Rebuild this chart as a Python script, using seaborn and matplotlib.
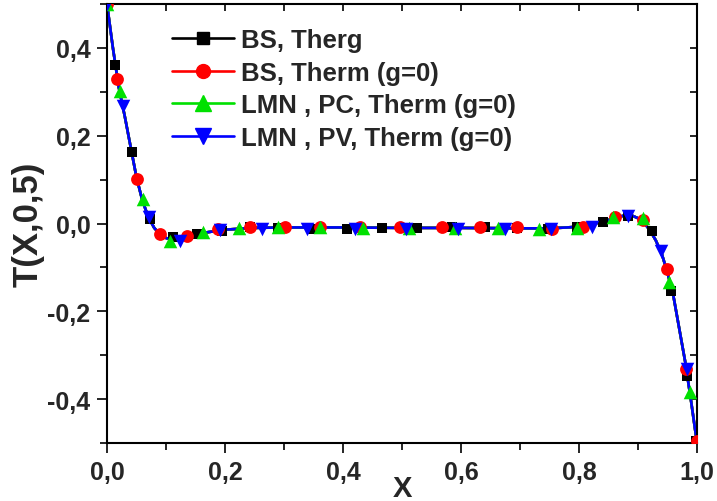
import matplotlib
matplotlib.use('Agg')
import matplotlib.pyplot as plt
import seaborn as sns
import pandas as pd
from matplotlib.lines import Line2D
from matplotlib.ticker import MultipleLocator, FuncFormatter

# ---------------- data ----------------
curve_x = [0.0, 0.01, 0.02, 0.03, 0.04, 0.05, 0.06, 0.07, 0.08, 0.09, 0.10, 0.11,
           0.12, 0.13, 0.14, 0.15, 0.17, 0.20, 0.25, 0.30, 0.40, 0.50, 0.60, 0.70,
           0.75, 0.78, 0.80, 0.82, 0.84, 0.86, 0.87, 0.88, 0.89, 0.90, 0.91, 0.92,
           0.93, 0.94, 0.95, 0.96, 0.97, 0.98, 0.99, 1.0]
curve_y = [0.5, 0.40, 0.31, 0.245, 0.175, 0.105, 0.052, 0.015, -0.010, -0.025, -0.033, -0.037,
           -0.038, -0.036, -0.032, -0.027, -0.020, -0.014, -0.010, -0.009, -0.009, -0.010, -0.010, -0.011,
           -0.011, -0.009, -0.007, -0.002, 0.004, 0.012, 0.016, 0.019, 0.018, 0.012, 0.002, -0.015,
           -0.038, -0.068, -0.112, -0.165, -0.24, -0.315, -0.405, -0.5]

bs_therg_x = [0.0, 0.014, 0.042, 0.073, 0.112, 0.152, 0.195, 0.243, 0.29, 0.349, 0.407, 0.466,
              0.525, 0.585, 0.641, 0.695, 0.747, 0.797, 0.841, 0.883, 0.924, 0.956, 0.983, 0.998]
bs_therg_y = [0.5, 0.361, 0.163, 0.010, -0.031, -0.024, -0.017, -0.007, -0.010, -0.012, -0.012, -0.010,
              -0.010, -0.007, -0.007, -0.010, -0.012, -0.008, 0.004, 0.018, -0.016, -0.154, -0.347, -0.495]

bs_therm_x = [0.0, 0.017, 0.051, 0.090, 0.136, 0.188, 0.242, 0.302, 0.361, 0.429, 0.497, 0.568,
              0.632, 0.695, 0.754, 0.807, 0.861, 0.908, 0.949, 0.981, 1.0]
bs_therm_y = [0.5, 0.329, 0.101, -0.024, -0.028, -0.012, -0.007, -0.007, -0.009, -0.007, -0.009, -0.009,
              -0.009, -0.009, -0.012, -0.007, 0.015, 0.008, -0.104, -0.331, -0.495]

lmn_pc_x = [0.0, 0.022, 0.061, 0.107, 0.163, 0.224, 0.290, 0.361, 0.434, 0.512, 0.590, 0.663,
            0.732, 0.797, 0.858, 0.908, 0.953, 0.988]
lmn_pc_y = [0.5, 0.302, 0.056, -0.040, -0.020, -0.010, -0.008, -0.009, -0.010, -0.011, -0.011, -0.011,
            -0.012, -0.010, 0.014, 0.012, -0.133, -0.384]

lmn_pv_x = [0.0, 0.027, 0.071, 0.124, 0.192, 0.263, 0.339, 0.420, 0.507, 0.595, 0.675, 0.753,
            0.822, 0.883, 0.939, 0.983]
lmn_pv_y = [0.5, 0.268, 0.015, -0.040, -0.015, -0.012, -0.013, -0.013, -0.013, -0.012, -0.013, -0.013,
            -0.007, 0.017, -0.063, -0.331]

labels = ["BS, Therg", "BS, Therm (g=0)", "LMN , PC, Therm (g=0)", "LMN , PV, Therm (g=0)"]
colors = ["#000000", "#ff0000", "#00e000", "#0000ff"]
markers = ["s", "o", "^", "v"]
msizes = [60, 85, 95, 95]

# ---------------- figure ----------------
sns.set_theme(style='white')
plt.rcParams['font.family'] = ['Liberation Sans', 'DejaVu Sans']
plt.rcParams['font.weight'] = 'bold'

fig = plt.figure(figsize=(7.17, 5.02), dpi=100)
ax = fig.add_axes([107/717, (502-444)/502, 590/717, 439/502])

series = [(bs_therg_x, bs_therg_y), (bs_therm_x, bs_therm_y),
          (lmn_pc_x, lmn_pc_y), (lmn_pv_x, lmn_pv_y)]
curve_df = pd.DataFrame({"x": curve_x, "y": curve_y})
for (sx, sy), c, m, s in zip(series, colors, markers, msizes):
    sns.lineplot(data=curve_df, x="x", y="y", color=c, lw=1.9, ax=ax,
                 sort=False, estimator=None, legend=False)
    sdf = pd.DataFrame({"x": sx, "y": sy})
    sns.scatterplot(data=sdf, x="x", y="y", color=c, marker=m, s=s,
                    edgecolor=c, linewidth=0, ax=ax, legend=False, zorder=3)

ax.set_xlim(0, 1)
ax.set_ylim(-0.5, 0.5)

fmt = FuncFormatter(lambda v, p: ("0,0" if abs(v) < 1e-9 else f"{v:.1f}".replace('.', ',')))
ax.xaxis.set_major_locator(MultipleLocator(0.2))
ax.xaxis.set_minor_locator(MultipleLocator(0.1))
ax.yaxis.set_major_locator(MultipleLocator(0.2))
ax.yaxis.set_minor_locator(MultipleLocator(0.1))
ax.xaxis.set_major_formatter(fmt)
ax.yaxis.set_major_formatter(fmt)
ax.tick_params(which='major', direction='out', length=7, width=1.4, labelsize=18,
               bottom=True, left=True, top=False, right=False, pad=5)
ax.tick_params(which='minor', direction='out', length=5, width=1.4,
               bottom=True, left=True, top=False, right=False)
for lab in ax.get_xticklabels() + ax.get_yticklabels():
    lab.set_fontweight('bold')

# mirrored inward ticks on top and right
secx = ax.secondary_xaxis('top')
secx.xaxis.set_major_locator(MultipleLocator(0.2))
secx.xaxis.set_minor_locator(MultipleLocator(0.1))
secx.tick_params(which='both', direction='in', length=5, width=1.4, labeltop=False)
secy = ax.secondary_yaxis('right')
secy.yaxis.set_major_locator(MultipleLocator(0.2))
secy.yaxis.set_minor_locator(MultipleLocator(0.1))
secy.tick_params(which='both', direction='in', length=5, width=1.4, labelright=False)
for sp in list(secx.spines.values()) + list(secy.spines.values()):
    sp.set_visible(False)

for sp in ax.spines.values():
    sp.set_color('black')
    sp.set_linewidth(1.5)

ax.set_xlabel("X", fontsize=21, fontweight='bold', labelpad=-7)
ax.set_ylabel("T(X,0,5)", fontsize=25, fontweight='bold', labelpad=2)

handles = [Line2D([0], [0], color=c, marker=m, markersize=ms, lw=1.9)
           for c, m, ms in zip(colors, markers, [8, 10, 11, 11])]
ax.legend(handles, labels, loc='upper left', bbox_to_anchor=(0.11, 0.945),
          frameon=False, handlelength=2.4, handletextpad=0.3,
          labelspacing=0.33, borderaxespad=0, borderpad=0,
          prop={'weight': 'bold', 'size': 18.5})

fig.savefig("out.png", dpi=100)
